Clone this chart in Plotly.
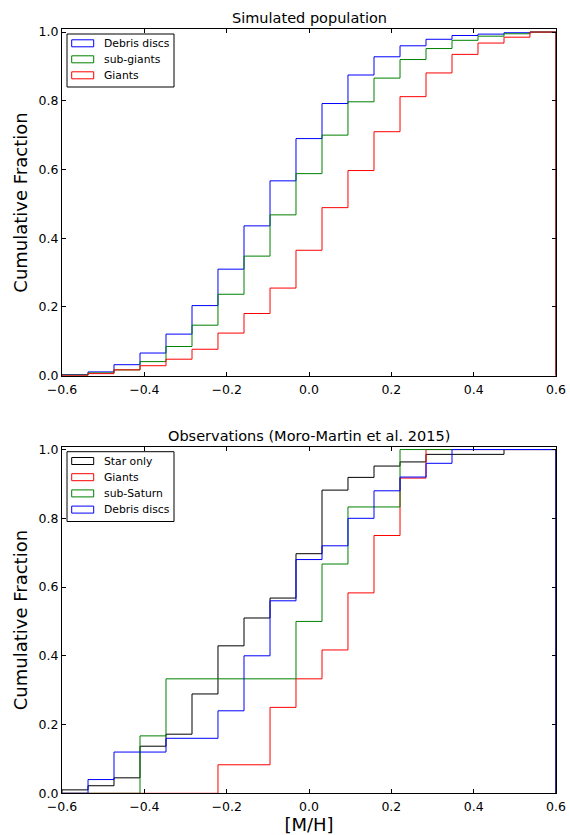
import plotly.graph_objects as go

# ---------------- data ----------------
bin_edges = [-0.6, -0.5368, -0.4737, -0.4105, -0.3474, -0.2842, -0.2211, -0.1579,
             -0.0947, -0.0316, 0.0316, 0.0947, 0.1579, 0.2211, 0.2842, 0.3474,
             0.4105, 0.4737, 0.5368, 0.6]

# Simulated population (cumulative fraction per bin)
sim_debris = [0.003, 0.011, 0.032, 0.066, 0.121, 0.204, 0.310, 0.436, 0.567, 0.690,
              0.792, 0.875, 0.928, 0.960, 0.979, 0.990, 0.994, 0.998, 1.0]
sim_subgiants = [0.002, 0.008, 0.017, 0.041, 0.085, 0.147, 0.237, 0.348, 0.468, 0.588,
                 0.700, 0.797, 0.866, 0.920, 0.952, 0.976, 0.988, 0.995, 1.0]
sim_giants = [0.001, 0.006, 0.017, 0.029, 0.048, 0.077, 0.124, 0.181, 0.255, 0.365,
              0.489, 0.597, 0.710, 0.812, 0.881, 0.935, 0.968, 0.985, 1.0]

# Observations (Moro-Martin et al. 2015)
obs_star = [0.010, 0.022, 0.045, 0.137, 0.172, 0.289, 0.429, 0.510, 0.568, 0.697,
            0.882, 0.919, 0.952, 0.964, 0.986, 0.986, 0.986, 1.0, 1.0]
obs_giants = [0.0, 0.0, 0.0, 0.0, 0.0, 0.0, 0.083, 0.083, 0.25, 0.333,
              0.417, 0.583, 0.75, 0.917, 1.0, 1.0, 1.0, 1.0, 1.0]
obs_subsaturn = [0.0, 0.0, 0.0, 0.167, 0.333, 0.333, 0.333, 0.333, 0.333, 0.5,
                 0.667, 0.833, 0.833, 1.0, 1.0, 1.0, 1.0, 1.0, 1.0]
obs_debris = [0.0, 0.04, 0.12, 0.12, 0.16, 0.16, 0.24, 0.40, 0.56, 0.68,
              0.72, 0.80, 0.88, 0.92, 0.96, 1.0, 1.0, 1.0, 1.0]

x_ticks = [-0.6, -0.4, -0.2, 0.0, 0.2, 0.4, 0.6]
y_ticks = [0.0, 0.2, 0.4, 0.6, 0.8, 1.0]

top_title = "Simulated population"
bot_title = "Observations (Moro-Martin et al. 2015)"
y_label = "Cumulative Fraction"
x_label = "[M/H]"

top_series = [("Debris discs", sim_debris, "#0000ff"),
              ("sub-giants", sim_subgiants, "#008000"),
              ("Giants", sim_giants, "#ff0000")]
bot_series = [("Star only", obs_star, "#000000"),
              ("Giants", obs_giants, "#ff0000"),
              ("sub-Saturn", obs_subsaturn, "#008000"),
              ("Debris discs", obs_debris, "#0000ff")]

FONT = "DejaVu Sans"
W, H = 570, 835


def step_xy(vals):
    xs = [bin_edges[0]] + list(bin_edges)
    ys = [0.0] + list(vals) + [0.0]
    return xs, ys


def px(x):
    return x / W


def py(y):
    return 1 - y / H


fig = go.Figure()
for (name, vals, col) in top_series:
    xs, ys = step_xy(vals)
    fig.add_trace(go.Scatter(x=xs, y=ys, mode="lines", name=name,
                             line=dict(color=col, width=1, shape="hv"),
                             showlegend=False, xaxis="x", yaxis="y"))
for (name, vals, col) in bot_series:
    xs, ys = step_xy(vals)
    fig.add_trace(go.Scatter(x=xs, y=ys, mode="lines", name=name,
                             line=dict(color=col, width=1, shape="hv"),
                             showlegend=False, xaxis="x2", yaxis="y2"))

# pixel geometry of the two panels
xl, xr = 62, 556
top_t, top_b = 29.3, 375.7
bot_t, bot_b = 446.8, 793.3
xdom = [px(xl), px(xr)]
ydom_top = [py(top_b), py(top_t)]
ydom_bot = [py(bot_b), py(bot_t)]

# ---------------- legends (drawn boxes + real text) ----------------
shapes = []
annotations = []


def add_legend(series, box_top, row_h):
    n = len(series)
    box_l, box_r = 67, 174
    box_b = box_top + 2.5 + n * row_h + 2.5
    shapes.append(dict(type="rect", xref="paper", yref="paper",
                       x0=px(box_l), x1=px(box_r), y0=py(box_b), y1=py(box_top),
                       line=dict(color="black", width=1), fillcolor="white",
                       layer="above"))
    for i, (name, _, col) in enumerate(series):
        cy = box_top + 9.3 + i * row_h
        shapes.append(dict(type="rect", xref="paper", yref="paper",
                           x0=px(71.7), x1=px(93.7), y0=py(cy + 3.5), y1=py(cy - 3.5),
                           line=dict(color=col, width=1),
                           fillcolor="rgba(0,0,0,0)", layer="above"))
        annotations.append(dict(text=name, xref="paper", yref="paper",
                                x=px(102), y=py(cy), xanchor="left",
                                yanchor="middle", showarrow=False,
                                font=dict(family=FONT, size=10.8, color="black")))


add_legend(top_series, 34, 16)
add_legend(bot_series, 451.7, 16.2)

annotations += [
    dict(text=top_title, xref="x domain", yref="y domain",
         x=0.5, y=1, xanchor="center", yanchor="bottom", yshift=1,
         showarrow=False, font=dict(family=FONT, size=14.5, color="black")),
    dict(text=bot_title, xref="x2 domain", yref="y2 domain",
         x=0.5, y=1, xanchor="center", yanchor="bottom", yshift=1,
         showarrow=False, font=dict(family=FONT, size=14.5, color="black")),
]

axis_common = dict(ticks="inside", ticklen=4, tickwidth=1, tickcolor="black",
                   showline=True, linecolor="black", linewidth=1, mirror="ticks",
                   showgrid=False, zeroline=False, automargin=False,
                   tickfont=dict(family=FONT, size=12.5, color="black"))
xcommon = dict(axis_common, range=[-0.6, 0.6], tickvals=x_ticks, tickformat=".1f",
               ticklabelstandoff=2)
ycommon = dict(axis_common, range=[0, 1.008], tickvals=y_ticks, tickformat=".1f")

fig.update_layout(
    template="none",
    width=W, height=H,
    margin=dict(l=0, r=0, t=0, b=0, pad=0),
    paper_bgcolor="white", plot_bgcolor="white",
    font=dict(family=FONT, color="black"),
    showlegend=False,
    hovermode=False,
    shapes=shapes,
    annotations=annotations,
    xaxis=dict(xcommon, domain=xdom, anchor="y"),
    yaxis=dict(ycommon, domain=ydom_top, anchor="x",
               title=dict(text=y_label, font=dict(size=18), standoff=6)),
    xaxis2=dict(xcommon, domain=xdom, anchor="y2",
                title=dict(text=x_label, font=dict(size=18), standoff=2)),
    yaxis2=dict(ycommon, domain=ydom_bot, anchor="x2",
                title=dict(text=y_label, font=dict(size=18), standoff=6)),
)

fig.write_html(
    "out.html",
    config={"displayModeBar": False},
    post_script="document.body.style.margin='0';document.body.style.overflow='hidden';",
)
